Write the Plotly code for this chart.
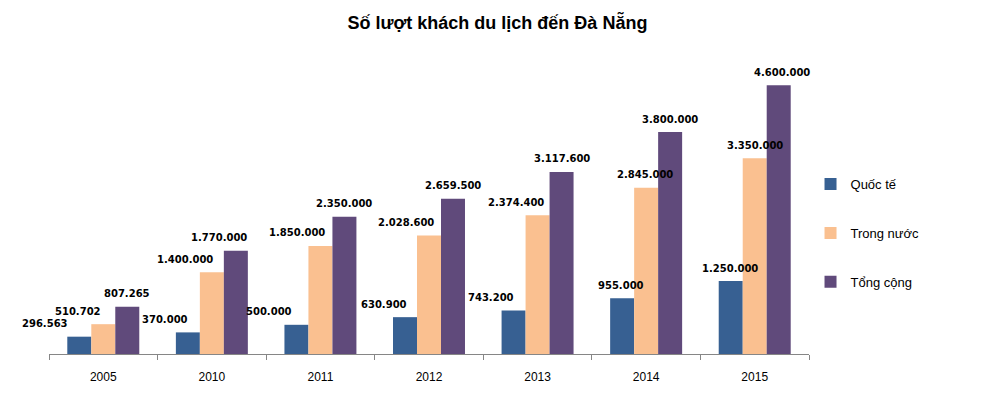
import plotly.graph_objects as go

years = ["2005", "2010", "2011", "2012", "2013", "2014", "2015"]
quoc_te = [296563, 370000, 500000, 630900, 743200, 955000, 1250000]
trong_nuoc = [510702, 1400000, 1850000, 2028600, 2374400, 2845000, 3350000]
tong_cong = [807265, 1770000, 2350000, 2659500, 3117600, 3800000, 4600000]

series_names = ["Quốc tế", "Trong nước", "Tổng cộng"]
series_values = [quoc_te, trong_nuoc, tong_cong]
colors = ["#376092", "#FAC090", "#604A7B"]

# label horizontal nudges (pixels) as placed in the original chart
label_dx = [
    [-34, -23, -27, -21, -23, -1, -1],
    [-25, -27, -23, -23, -22, -1, 0],
    [0, -17, 0, 0, 0, 0, 3],
]
BAR_PX = 24


def fmt(v):
    return f"{v:,}".replace(",", ".")


fig = go.Figure()
for k, (name, vals, col) in enumerate(zip(series_names, series_values, colors)):
    fig.add_trace(go.Bar(
        x=years, y=vals, name=name, marker=dict(color=col, line=dict(width=0)),
        legendgroup=name, hoverinfo="skip",
    ))

annotations = []
for k, vals in enumerate(series_values):
    for j, v in enumerate(vals):
        annotations.append(dict(
            x=j, y=v, xref="x", yref="y", text=fmt(v), showarrow=False,
            xshift=(k - 1) * BAR_PX + label_dx[k][j], yshift=13, yanchor="middle",
            font=dict(family="DejaVu Sans", size=10, color="#000000", weight="bold"),
        ))

fig.update_layout(
    width=990, height=388,
    margin=dict(l=41, r=189, t=54, b=42),
    paper_bgcolor="white", plot_bgcolor="white",
    barmode="group", bargap=0.337, bargroupgap=0,
    title=dict(text="<b>Số lượt khách du lịch đến Đà Nẵng</b>", x=0.4944, xanchor="center",
               y=1 - 15 / 388, yanchor="middle", xref="container", yref="container",
               font=dict(family="Liberation Sans", size=18, color="#000000")),
    xaxis=dict(type="category", categoryorder="array", categoryarray=years,
               range=[-0.5, len(years) - 0.5], autorange=False,
               showline=True, linecolor="#868686", linewidth=1,
               ticks="outside", tickson="boundaries", ticklen=5, tickcolor="#868686",
               ticklabelstandoff=12,
               tickfont=dict(family="Liberation Sans", size=12, color="#000000"),
               showgrid=False, zeroline=False, fixedrange=True),
    yaxis=dict(range=[0, 5000000], visible=False, showgrid=False, zeroline=False, fixedrange=True),
    legend=dict(x=1.002, xanchor="left", y=0.414, yanchor="middle", tracegroupgap=29,
                font=dict(family="Liberation Sans", size=13, color="#000000"),
                bgcolor="rgba(0,0,0,0)", itemwidth=30),
    annotations=annotations,
    showlegend=True,
)

fig.write_html("out.html")
